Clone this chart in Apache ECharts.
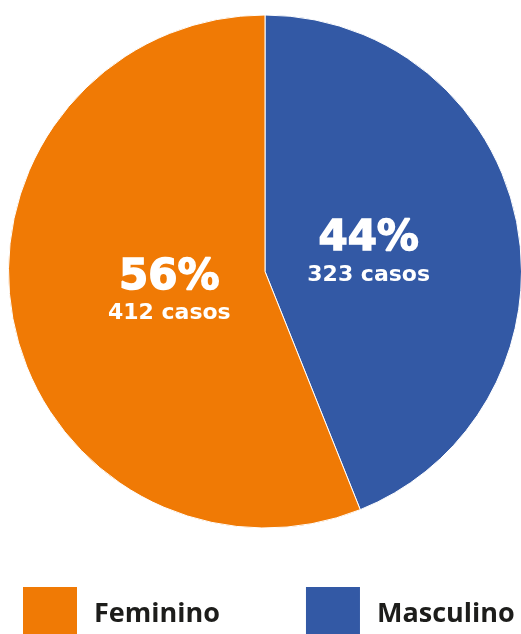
<!DOCTYPE html>
<html>
<head>
<meta charset="utf-8">
<script src="https://cdn.jsdelivr.net/npm/echarts@6/dist/echarts.min.js"></script>
<style>
html,body{margin:0;padding:0;background:#fff;}
#chart{width:521px;height:634px;}
</style>
</head>
<body>
<div id="chart"></div>
<script>
const categories = ['Masculino', 'Feminino'];
const casos = [323, 412];
const percentLabels = ['44%', '56%'];
const colors = ['#3359A5', '#F07A05'];
const legendOrder = ['Feminino', 'Masculino'];

const pieData = categories.map((c, i) => ({ name: c, value: casos[i], itemStyle: { color: colors[i] } }));
const labelData = categories.map((c, i) => ({ name: c, value: casos[i] }));

const chart = echarts.init(document.getElementById('chart'), null, { renderer: 'canvas' });
chart.setOption({
  animation: false,
  backgroundColor: '#fff',
  legend: {
    data: legendOrder,
    left: 23,
    top: 587,
    padding: 0,
    itemWidth: 54,
    itemHeight: 54,
    itemGap: 86,
    icon: 'rect',
    itemStyle: { borderWidth: 0 },
    textStyle: { fontFamily: 'Open Sans', fontWeight: 'bold', fontSize: 27, color: '#1d1d1b', padding: [3, 0, 0, 12] }
  },
  series: [
    {
      type: 'pie',
      center: [265, 271.5],
      radius: 256.5,
      startAngle: 90,
      clockwise: true,
      label: { show: false },
      labelLine: { show: false },
      itemStyle: { borderColor: '#fff', borderWidth: 1 },
      emphasis: { disabled: true },
      data: pieData
    },
    {
      type: 'pie',
      center: [265, 271.5],
      radius: 197,
      startAngle: 90,
      clockwise: true,
      silent: true,
      itemStyle: { color: 'rgba(0,0,0,0)' },
      emphasis: { disabled: true },
      legendHoverLink: false,
      labelLine: { show: false },
      label: {
        show: true,
        position: 'inside',
        offset: [4, 3],
        formatter: (p) => '{a|' + percentLabels[p.dataIndex] + '}\n{b|' + p.value + ' casos}',
        rich: {
          a: { fontFamily: 'DejaVu Sans', fontWeight: 'bold', fontSize: 42, color: '#fff', lineHeight: 40, align: 'center', textBorderColor: '#fff', textBorderWidth: 1.5 },
          b: { fontFamily: 'DejaVu Sans', fontWeight: 'bold', fontSize: 22, color: '#fff', lineHeight: 32, align: 'center' }
        }
      },
      data: labelData
    }
  ]
});
</script>
</body>
</html>
